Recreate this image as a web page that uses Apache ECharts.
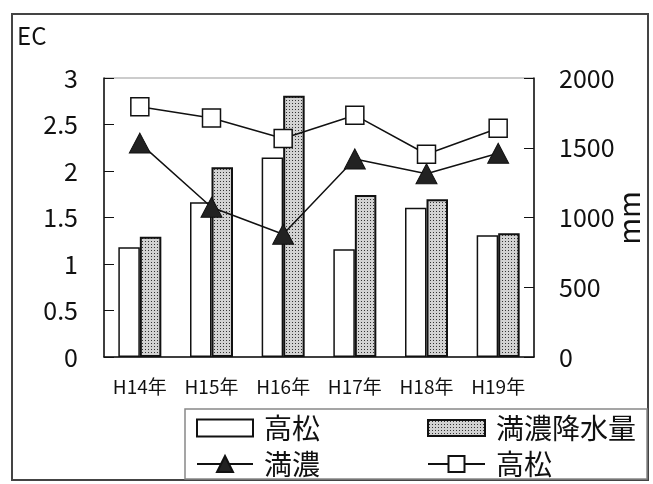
<!DOCTYPE html>
<html>
<head>
<meta charset="utf-8">
<script src="https://cdn.jsdelivr.net/npm/echarts@6/dist/echarts.min.js"></script>
<style>
  html, body { margin: 0; padding: 0; background: #fff; }
  #chart { width: 653px; height: 484px; }
</style>
</head>
<body>
<div id="chart"></div>
<script>
// Years on the category axis
const years = ['H14年', 'H15年', 'H16年', 'H17年', 'H18年', 'H19年'];
// Annual precipitation (mm), right axis
const rainTakamatsu = [786, 1109, 1431, 772, 1070, 872];
const rainMannou = [862, 1360, 1873, 1161, 1130, 887];
// EC values, left axis
const ecMannou = [2.30, 1.61, 1.32, 2.13, 1.97, 2.19];
const ecTakamatsu = [2.69, 2.57, 2.35, 2.60, 2.18, 2.46];
// Axis ranges
const ecAxis = { min: 0, max: 3, step: 0.5 };
const mmAxis = { min: 0, max: 2000, step: 500 };

const FONT = '"Noto Sans CJK JP", "Noto Sans", sans-serif';
const INK = '#111';

// Dotted fill used for the Mannou precipitation bars
function dotPattern() {
  const c = document.createElement('canvas');
  c.width = 3; c.height = 3;
  const g = c.getContext('2d');
  g.fillStyle = '#d2d2d2';
  g.fillRect(0, 0, 3, 3);
  g.fillStyle = '#333';
  g.fillRect(1, 1, 1, 1);
  return c;
}
const dots = { image: dotPattern(), repeat: 'repeat' };

const chart = echarts.init(document.getElementById('chart'), null, { renderer: 'canvas' });

const legendText = { fontFamily: FONT, fontSize: 28, color: INK, padding: [0, 0, 0, 6] };
function legendAt(name, left, top, w, h, label, icon) {
  const l = {
    data: [name], left: left, top: top, padding: 0,
    itemWidth: w, itemHeight: h, selectedMode: false,
    textStyle: legendText,
    formatter: () => label
  };
  if (icon) l.icon = icon;
  return l;
}

chart.setOption({
  animation: false,
  backgroundColor: '#fff',
  grid: { left: 104, right: 119, top: 78, bottom: 127, show: true, borderColor: '#999', borderWidth: 1 },
  xAxis: {
    type: 'category',
    data: years,
    boundaryGap: true,
    axisLine: { lineStyle: { color: INK, width: 1.5 } },
    axisTick: { inside: true, length: 6, lineStyle: { color: '#555', width: 1 } },
    axisLabel: { fontFamily: FONT, fontSize: 19, color: INK, margin: 20 }
  },
  yAxis: [
    {
      type: 'value', min: ecAxis.min, max: ecAxis.max, interval: ecAxis.step,
      position: 'left',
      axisLine: { show: true, lineStyle: { color: INK, width: 1.5 } },
      axisTick: { show: true, inside: true, length: 10, lineStyle: { color: INK, width: 1 } },
      splitLine: { show: false },
      axisLabel: { fontFamily: FONT, fontSize: 25, color: INK, margin: 26 }
    },
    {
      type: 'value', min: mmAxis.min, max: mmAxis.max, interval: mmAxis.step,
      position: 'right',
      axisLine: { show: true, lineStyle: { color: INK, width: 1.5 } },
      axisTick: { show: true, inside: true, length: 10, lineStyle: { color: INK, width: 1 } },
      splitLine: { show: false },
      axisLabel: { fontFamily: FONT, fontSize: 25, color: INK, margin: 25, formatter: v => String(v) }
    }
  ],
  legend: [
    legendAt('高松', 196, 414, 56, 17, '高松', 'rect'),
    legendAt('満濃降水量', 427, 414, 57, 16, '満濃降水量', 'rect'),
    legendAt('満濃', 196, 450, 56, 20, '満濃'),
    legendAt('高松EC', 427, 450, 57, 20, '高松')
  ],
  series: [
    {
      name: '高松', type: 'bar', yAxisIndex: 1, data: rainTakamatsu,
      barGap: '0%', barCategoryGap: '40%',
      itemStyle: { color: '#fff', borderColor: INK, borderWidth: 1.5 }
    },
    {
      name: '満濃降水量', type: 'bar', yAxisIndex: 1, data: rainMannou,
      itemStyle: { color: dots, borderColor: INK, borderWidth: 2 }
    },
    {
      name: '満濃', type: 'line', yAxisIndex: 0, data: ecMannou,
      symbol: 'triangle', symbolSize: [21, 20], z: 4,
      lineStyle: { color: INK, width: 1.5 },
      itemStyle: { color: '#222', borderColor: INK, borderWidth: 1 }
    },
    {
      name: '高松EC', type: 'line', yAxisIndex: 0, data: ecTakamatsu,
      symbol: 'rect', symbolSize: 18, z: 5,
      lineStyle: { color: INK, width: 1.5 },
      itemStyle: { color: '#fff', borderColor: INK, borderWidth: 1.5 }
    }
  ],
  graphic: [
    { type: 'rect', z: -1, silent: true, shape: { x: 12, y: 14, width: 636, height: 466 },
      style: { fill: 'none', stroke: '#444', lineWidth: 2 } },
    { type: 'rect', z: -1, silent: true, shape: { x: 185, y: 409, width: 462, height: 70 },
      style: { fill: '#fff', stroke: '#888', lineWidth: 1.5 } },
    { type: 'text', left: 17, top: 24, silent: true,
      style: { text: 'EC', font: '24px ' + FONT, fill: INK } },
    { type: 'text', x: 629, y: 218, rotation: Math.PI / 2, silent: true,
      style: { text: 'mm', font: '29px ' + FONT, fill: INK, align: 'center', verticalAlign: 'middle' } }
  ]
});
</script>
</body>
</html>
